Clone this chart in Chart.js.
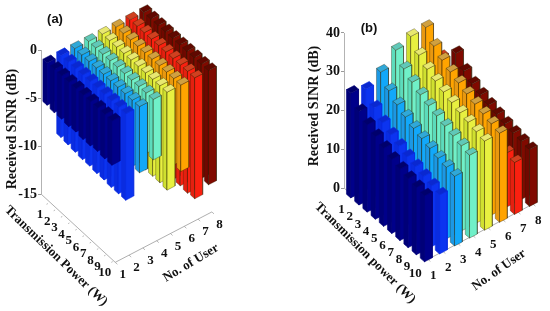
<!DOCTYPE html>
<html>
<head>
<meta charset="utf-8">
<title>Received SINR</title>
<script src="https://cdn.jsdelivr.net/npm/chart.js@4/dist/chart.umd.min.js"></script>
<style>
  html, body { margin: 0; padding: 0; background: #fff; }
  #wrap { position: relative; width: 550px; height: 311px; overflow: hidden; }
  canvas { position: absolute; top: 0; }
</style>
</head>
<body>
<div id="wrap">
  <canvas id="chart-a" width="275" height="311" style="left:0"></canvas>
  <canvas id="chart-b" width="275" height="311" style="left:275px"></canvas>
</div>
<script>
// ── Data (dB, one list per user, power 1..10) ───────────────────────

const POWER_LABELS = [1, 2, 3, 4, 5, 6, 7, 8, 9, 10];
const USER_LABELS = [1, 2, 3, 4, 5, 6, 7, 8];
const TICKS_A = [0, -5, -10, -15];
const TICKS_B = [0, 10, 20, 30, 40];

const A_USER1 = [-4.4, -4.5, -4.5, -4.6, -4.5, -4.6, -4.6, -4.5, -4.6, -4.6];
const A_USER2 = [-8.5, -8.6, -8.7, -8.8, -8.8, -8.9, -8.9, -9, -9, -9];
const A_USER3 = [-6.5, -6.6, -6.6, -6.7, -6.7, -6.8, -6.8, -6.8, -6.9, -6.9];
const A_USER4 = [-6, -6.1, -6.1, -6.2, -6.2, -6.2, -6.3, -6.3, -6.3, -6.3];
const A_USER5 = [-9.8, -9.9, -9.9, -10, -10, -10, -10.1, -10.1, -10.1, -10.2];
const A_USER6 = [-8.6, -8.7, -8.7, -8.8, -8.8, -8.9, -8.9, -9, -9, -9];
const A_USER7 = [-12.2, -12.3, -12.4, -12.4, -12.5, -12.5, -12.6, -12.6, -12.7, -12.6];
const A_USER8 = [-11.5, -11.6, -11.6, -11.7, -11.7, -11.8, -11.8, -11.9, -11.9, -11.9];

const B_USER1 = [27, 24.1, 22.5, 21.3, 20.1, 19.1, 18.4, 17.8, 17.3, 17];
const B_USER2 = [26, 23, 21, 19.7, 18.6, 17.7, 17, 16.3, 15.7, 15.2];
const B_USER3 = [28.4, 25.4, 23.6, 22.3, 21.2, 20.4, 19.7, 19, 18.5, 18];
const B_USER4 = [32, 29, 27.4, 26, 25, 24.2, 23.4, 22.7, 22, 21.4];
const B_USER5 = [33.5, 30.5, 28.7, 27.5, 26.5, 25.6, 24.8, 24.2, 23.6, 23];
const B_USER6 = [33.8, 30.8, 29, 27.8, 26.8, 25.8, 25, 24.3, 23.6, 23];
const B_USER7 = [24, 21, 19.3, 18, 17, 16.2, 15.4, 14.7, 14, 13.4];
const B_USER8 = [23, 20.3, 18.8, 17.8, 17, 16.4, 15.8, 15.3, 15, 14.7];

// left face, right face, top face per user
const USER_COLORS = [
  ['#000078', '#00008a', '#00006c'],
  ['#0a2ce0', '#0c34f0', '#0a28d0'],
  ['#1c98e4', '#12a8fa', '#30a8d8'],
  ['#5cdcbc', '#70f0c8', '#60c8b8'],
  ['#d0e030', '#e8f040', '#e8e870'],
  ['#e89810', '#ffa400', '#d0a040'],
  ['#e42010', '#fa2010', '#d04020'],
  ['#700800', '#800a00', '#600800'],
];

// ── Projection ──────────────────────────────────────────────────────

// Floor directions in px per unit of user / power, bar half width in units.
// axisX/zeroY = where the z axis sits, cx/cy = bar (user 1, power 1) relative to it.
const PANEL_A = {
  axisX: 41, zeroY: 50, pxPerDb: 9.6, floorDb: -15, axisTop: 0,
  cx: 8, cy: 9, ux: 13.8, uy: -7.2, px: 7.2, py: 6.45, half: 0.29,
};
const PANEL_B = {
  axisX: 69, zeroY: 188, pxPerDb: 3.875, floorDb: 0, axisTop: 40,
  cx: 8.5, cy: 6, ux: 15, uy: -7.9, px: 8.2, py: 7.1, half: 0.26,
};
const EDGE = 'rgba(40,30,0,0.55)';

function project(panel, user, power, db) {
  const dx = panel.cx + (user - 1) * panel.ux + (power - 1) * panel.px;
  const dy = panel.cy + (user - 1) * panel.uy + (power - 1) * panel.py;
  return { x: dx, y: db - dy / panel.pxPerDb };
}

function faceDataset(points, color, edge) {
  return {
    data: points.concat([points[0]]),
    showLine: true,
    pointRadius: 0,
    borderWidth: 0.6,
    borderColor: edge,
    polyFill: color,
    tension: 0,
  };
}

// Three visible faces of one bar, from the plane z=0 to its value
function barFaces(panel, user, power, value) {
  const h = panel.half;
  const hi = Math.max(0, value);
  const lo = Math.min(0, value);
  const colors = USER_COLORS[user - 1];
  const edge = user <= 2 ? colors[0] : EDGE;
  const front = [user - h, power + h];
  const left = [user - h, power - h];
  const right = [user + h, power + h];
  const back = [user + h, power - h];
  const p = (c, z) => project(panel, c[0], c[1], z);
  return [
    faceDataset([p(left, hi), p(front, hi), p(front, lo), p(left, lo)], colors[0], edge),
    faceDataset([p(front, hi), p(right, hi), p(right, lo), p(front, lo)], colors[1], edge),
    faceDataset([p(left, hi), p(back, hi), p(right, hi), p(front, hi)], colors[2], edge),
  ];
}

function axisLine(points, width) {
  return {
    data: points,
    showLine: true,
    pointRadius: 0,
    borderWidth: width,
    borderColor: '#9a9a9a',
    tension: 0,
  };
}

function buildDatasets(panel, users) {
  const backToFront = [];
  const z = panel.floorDb;
  backToFront.push(axisLine([{ x: 0, y: panel.axisTop }, { x: 0, y: z }], 1.5));
  const corner = project(panel, 1, 10.2, z);
  const endU = project(panel, 8, 10.2, z);
  backToFront.push(axisLine([{ x: 0, y: z }, corner, endU], 0.8));
  POWER_LABELS.forEach(pw => {
    backToFront.push(axisLine([project(panel, 0.92, pw, z), project(panel, 0.82, pw, z)], 0.7));
  });
  USER_LABELS.forEach(u => {
    backToFront.push(axisLine([project(panel, u, 10.2, z), project(panel, u, 10.5, z)], 0.7));
  });
  for (let u = USER_LABELS.length; u >= 1; u--) {
    POWER_LABELS.forEach(pw => {
      backToFront.push(...barFaces(panel, u, pw, users[u - 1][pw - 1]));
    });
  }
  // Chart.js paints the first dataset last
  return backToFront.reverse();
}

// ── Plugins ─────────────────────────────────────────────────────────

// Fills the closed outline of a face just before the library strokes it
const faceFillPlugin = {
  id: 'faceFill',
  beforeDatasetDraw(chart, args) {
    const ds = chart.data.datasets[args.index];
    if (!ds.polyFill) return;
    const pts = args.meta.data;
    const ctx = chart.ctx;
    ctx.save();
    ctx.beginPath();
    pts.forEach((pt, i) => (i ? ctx.lineTo(pt.x, pt.y) : ctx.moveTo(pt.x, pt.y)));
    ctx.closePath();
    ctx.fillStyle = ds.polyFill;
    ctx.fill();
    ctx.restore();
  },
};

function drawText(ctx, text, x, y, font, angle) {
  ctx.save();
  ctx.translate(x, y);
  ctx.rotate((angle || 0) * Math.PI / 180);
  ctx.font = font;
  ctx.fillStyle = '#111';
  ctx.textAlign = 'center';
  ctx.textBaseline = 'middle';
  ctx.fillText(text, 0, 0);
  ctx.restore();
}

const SERIF = '"Liberation Serif", serif';

function textPlugin(panel, opts) {
  return {
    id: 'panelText',
    afterDraw(chart) {
      const ctx = chart.ctx;
      const { x: sx, y: sy } = chart.scales;
      const at = (u, pw) => {
        const q = project(panel, u, pw, panel.floorDb);
        return [sx.getPixelForValue(q.x), sy.getPixelForValue(q.y)];
      };
      POWER_LABELS.forEach(pw => {
        const [x, y] = at(1, pw);
        drawText(ctx, String(pw), x + opts.powerOff[0], y + opts.powerOff[1], 'bold 13px ' + SERIF);
      });
      USER_LABELS.forEach(u => {
        const [x, y] = at(u, 10);
        drawText(ctx, String(u), x + opts.userOff[0], y + opts.userOff[1], 'bold 13px ' + SERIF);
      });
      opts.titles.forEach(t => drawText(ctx, t.text, t.x, t.y, t.font, t.angle));
    },
  };
}

// ── Charts ──────────────────────────────────────────────────────────

function createChart(canvasId, panel, users, yTicks, opts) {
  new Chart(document.getElementById(canvasId), {
    type: 'scatter',
    data: { datasets: buildDatasets(panel, users) },
    plugins: [faceFillPlugin, textPlugin(panel, opts)],
    options: {
      responsive: false,
      animation: false,
      parsing: false,
      normalized: true,
      layout: { padding: 0, autoPadding: false },
      plugins: { legend: { display: false }, tooltip: { enabled: false } },
      scales: {
        x: { display: false, type: 'linear', min: 0, max: 275 - panel.axisX },
        y: {
          type: 'linear',
          min: -(311 - panel.zeroY) / panel.pxPerDb,
          max: panel.zeroY / panel.pxPerDb,
          afterBuildTicks: axis => { axis.ticks = yTicks.map(v => ({ value: v })); },
          afterFit: axis => {
            axis.width = panel.axisX;
            // keep the plot area on the full canvas height
            axis.paddingTop = 0;
            axis.paddingBottom = 0;
          },
          border: { display: false },
          grid: { drawOnChartArea: false, drawTicks: true, tickLength: 3, color: '#9a9a9a' },
          ticks: {
            color: '#111',
            padding: 1,
            autoSkip: false,
            font: { family: 'Liberation Serif', size: 14, weight: 'bold' },
          },
        },
      },
    },
  });
}

createChart('chart-a', PANEL_A,
  [A_USER1, A_USER2, A_USER3, A_USER4, A_USER5, A_USER6, A_USER7, A_USER8], TICKS_A, {
    powerOff: [-9, 12],
    userOff: [9, 14],
    titles: [
      { text: '(a)', x: 55, y: 19, font: 'bold 13px "Liberation Sans", sans-serif' },
      { text: 'Received SINR (dB)', x: 12, y: 129, font: 'bold 14px ' + SERIF, angle: -90 },
      { text: 'Transmission Power (W)', x: 56, y: 256, font: 'bold 13px ' + SERIF, angle: 44 },
      { text: 'No. of User', x: 191, y: 263, font: 'bold 13px ' + SERIF, angle: -31 },
    ],
  });

createChart('chart-b', PANEL_B,
  [B_USER1, B_USER2, B_USER3, B_USER4, B_USER5, B_USER6, B_USER7, B_USER8], TICKS_B, {
    powerOff: [-11, 16],
    userOff: [7, 18],
    titles: [
      { text: '(b)', x: 94, y: 28, font: 'bold 13px "Liberation Sans", sans-serif' },
      { text: 'Received SINR (dB)', x: 39, y: 106, font: 'bold 14px ' + SERIF, angle: -90 },
      { text: 'Transmission power (W)', x: 90, y: 253, font: 'bold 13px ' + SERIF, angle: 45 },
      { text: 'No. of User', x: 224, y: 270, font: 'bold 13px ' + SERIF, angle: -35 },
    ],
  });
</script>
</body>
</html>
